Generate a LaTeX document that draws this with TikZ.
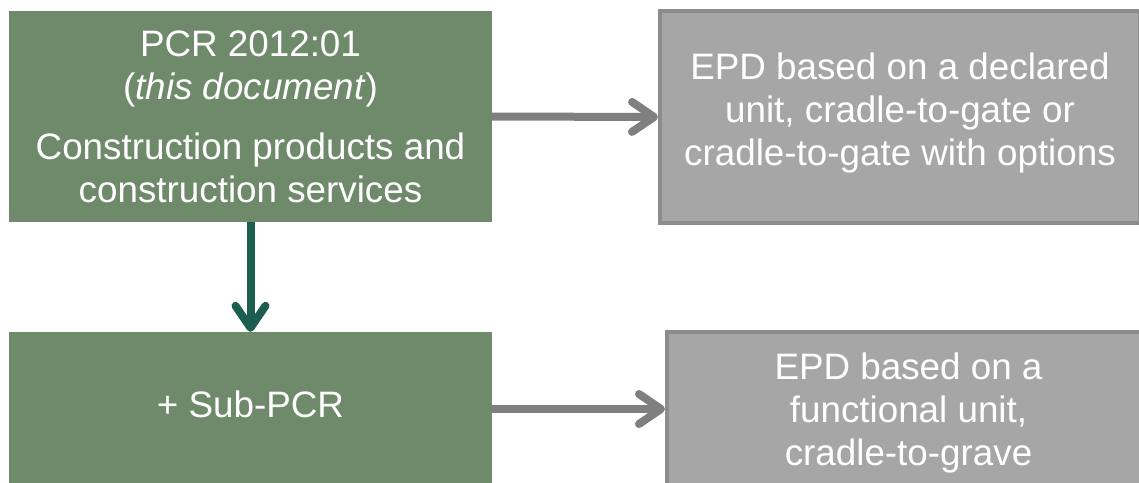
\documentclass[tikz,border=0pt]{standalone}
\usepackage{fontspec}
\setmainfont{Liberation Sans}
\usetikzlibrary{arrows.meta}
\definecolor{pcrgreen}{RGB}{110,138,106}
\definecolor{epdfill}{RGB}{166,166,166}
\definecolor{epdline}{RGB}{140,140,140}
\definecolor{arrowgray}{RGB}{127,127,127}
\definecolor{arrowteal}{RGB}{27,94,80}

\begin{document}
\begin{tikzpicture}[x=1pt, y=-1pt,
  greenbox/.style={fill=pcrgreen, text=white, align=center, inner sep=0pt,
    font=\fontsize{36.8}{43}\selectfont},
  graybox/.style={fill=epdfill, draw=epdline, line width=4pt, text=white,
    align=center, inner sep=0pt, font=\fontsize{36.8}{43}\selectfont},
  flowarrow/.style={line width=8pt,
    -{Straight Barb[length=22pt, width=30pt, line cap=round, line join=round]}}]
\useasboundingbox (0,0) rectangle (1139,482);

% PCR boxes
\node[greenbox, minimum width=483pt, minimum height=211pt] (pcr) at (250.5,116.5)
  {PCR 2012:01\\ (\textit{this document})\\[17pt]
   Construction products and\\ construction services};
\node[greenbox, minimum width=483pt, minimum height=154pt, text depth=10pt] (sub)
  at (250.5,409) {+ Sub-PCR};

% EPD boxes
\node[graybox, minimum width=480pt, minimum height=212pt, text depth=16pt] (epd1)
  at (900,117)
  {EPD based on a declared\\ unit, cradle-to-gate or\\ cradle-to-gate with options};
\node[graybox, minimum width=483pt, minimum height=154pt, text depth=0pt] (epd2)
  at (908.5,409)
  {EPD based on a\\ functional unit,\\ cradle-to-grave};

% arrows
\draw[flowarrow, arrowgray] (pcr.east) -- (epd1.west);
\draw[flowarrow, arrowgray] (sub.east) -- (epd2.west);
\draw[flowarrow, arrowteal] (pcr.south) -- (sub.north);

\end{tikzpicture}
\end{document}
